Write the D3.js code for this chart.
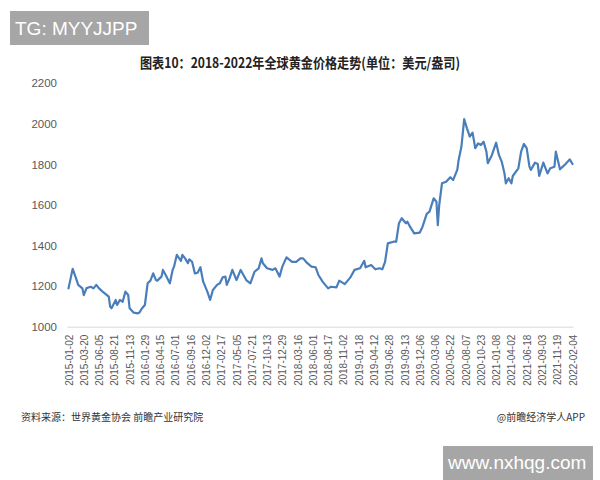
<!DOCTYPE html>
<html>
<head>
<meta charset="utf-8">
<script src="https://cdn.jsdelivr.net/npm/d3@7"></script>
<style>
  html, body { margin: 0; padding: 0; background: #ffffff; }
  svg { display: block; }
</style>
</head>
<body>
<svg id="chart" width="600" height="480"></svg>
<script>
// ---- data ----
const tickLabels = ["2015-01-02","2015-03-20","2015-06-05","2015-08-21","2015-11-13","2016-01-29","2016-04-15","2016-07-01","2016-09-16","2016-12-02","2017-02-17","2017-05-05","2017-07-21","2017-10-13","2017-12-29","2018-03-16","2018-06-01","2018-08-17","2018-11-02","2019-01-18","2019-04-12","2019-06-28","2019-09-13","2019-12-06","2020-03-06","2020-05-22","2020-08-07","2020-10-23","2021-01-08","2021-04-02","2021-06-18","2021-09-03","2021-11-19","2022-02-04"];
// weekly observation index of each sampled point (labels fall every 11 observations)
const weekIdx = [0,3,5,7,10,11,13,16,18,20,22,25,29,30,31,34,35,37,39,41,43,44,47,50,51,53,55,57,59,61,63,64,67,68,70,73,75,76,78,81,82,84,86,87,89,91,93,95,97,100,102,104,107,109,111,113,114,116,118,121,124,128,131,134,137,139,140,143,147,149,152,154,157,161,164,167,169,172,175,178,180,183,187,189,193,195,199,203,206,210,213,214,218,221,224,226,228,230,234,236,238,240,243,244,246,249,253,255,258,260,263,265,266,267,269,272,275,277,280,281,283,285,287,289,291,293,295,297,299,301,302,305,308,310,312,314,315,317,319,320,324,326,328,330,332,333,336,338,339,342,345,347,350,351,354,356,358,361,363];
const prices = [1189,1285,1247,1206,1189,1156,1190,1197,1189,1206,1189,1170,1148,1099,1091,1132,1107,1132,1123,1173,1156,1091,1069,1066,1069,1091,1107,1214,1227,1263,1230,1227,1247,1280,1255,1214,1280,1296,1354,1325,1354,1337,1313,1332,1320,1263,1266,1293,1222,1173,1132,1181,1206,1214,1243,1247,1206,1238,1280,1230,1280,1230,1214,1271,1288,1337,1313,1288,1280,1288,1247,1296,1342,1320,1320,1337,1337,1313,1296,1293,1255,1222,1189,1197,1194,1227,1210,1243,1280,1288,1325,1293,1304,1283,1288,1283,1320,1411,1419,1419,1510,1535,1510,1518,1493,1460,1464,1493,1556,1567,1633,1616,1501,1600,1707,1715,1737,1723,1773,1822,1888,2023,1978,1937,1957,1880,1904,1896,1912,1863,1806,1847,1907,1847,1814,1756,1707,1732,1707,1743,1781,1863,1901,1880,1789,1773,1809,1802,1743,1809,1756,1781,1789,1863,1776,1789,1802,1825,1802];
const yTicks = [1000,1200,1400,1600,1800,2000,2200];
const labelStep = 11;
const title = "图表10：2018-2022年全球黄金价格走势(单位：美元/盎司)";
const sourceText = "资料来源：世界黄金协会 前瞻产业研究院";
const creditText = "@前瞻经济学人APP";

// ---- drawing ----
const svg = d3.select("#chart");
const lastIdx = labelStep * (tickLabels.length - 1);
const x = d3.scaleLinear().domain([0, lastIdx]).range([68.5, 572.5]);
const y = d3.scaleLinear().domain([1000, 2200]).range([326.7, 83.3]);

const data = weekIdx.map((w, i) => ({ w, v: prices[i] }));

// badge top-left
svg.append("rect").attr("x", 10).attr("y", 11).attr("width", 139).attr("height", 34).attr("fill", "#a6a6a6");
svg.append("text").attr("x", 15).attr("y", 35).attr("fill", "#ffffff")
  .attr("font-family", "Liberation Sans, Arial, sans-serif").attr("font-size", 19).text("TG: MYYJJPP");

// title
svg.append("text").attr("x", 140).attr("y", 68)
  .attr("font-family", "Noto Sans CJK SC, sans-serif").attr("font-weight", "bold")
  .attr("font-size", 14).attr("fill", "#222")
  .attr("textLength", 320).attr("lengthAdjust", "spacingAndGlyphs").text(title);

// y axis (labels only)
const yAxis = d3.axisLeft(y).tickValues(yTicks).tickFormat(d3.format("d")).tickSize(0).tickPadding(0);
const gy = svg.append("g").attr("transform", "translate(57,0)").call(yAxis);
gy.select(".domain").remove();
gy.selectAll("text").attr("font-family", "Liberation Sans, Arial, sans-serif")
  .attr("font-size", 11.5).attr("fill", "#595959");

// x axis
const xAxis = d3.axisBottom(x)
  .tickValues(tickLabels.map((d, i) => i * labelStep))
  .tickFormat((d) => tickLabels[d / labelStep])
  .tickSize(0).tickPadding(0);
const gx = svg.append("g").attr("transform", `translate(0,${y(1000)})`).call(xAxis);
gx.select(".domain").attr("stroke", "#d9d9d9").attr("stroke-width", 1)
  .attr("d", `M${x(0) - 1},0.5H${x(lastIdx) + 1}`);
gx.selectAll("text")
  .attr("font-family", "Liberation Sans, Arial, sans-serif")
  .attr("font-size", 10).attr("fill", "#595959")
  .attr("text-anchor", "end")
  .attr("transform", "rotate(-90)")
  .attr("x", -8).attr("y", 0).attr("dy", "0.35em");

// line
const line = d3.line().x(d => x(d.w)).y(d => y(d.v)).curve(d3.curveLinear);
svg.append("path").datum(data).attr("d", line)
  .attr("fill", "none").attr("stroke", "#4a7ebb").attr("stroke-width", 2.2)
  .attr("stroke-linejoin", "round").attr("stroke-linecap", "round");

// footer
svg.append("text").attr("x", 21).attr("y", 421)
  .attr("font-family", "Noto Sans CJK SC, sans-serif").attr("font-size", 10).attr("fill", "#333")
  .text(sourceText);
svg.append("text").attr("x", 585).attr("y", 421).attr("text-anchor", "end")
  .attr("font-family", "Noto Sans CJK SC, sans-serif").attr("font-size", 10).attr("fill", "#333")
  .text(creditText);

// badge bottom-right
svg.append("rect").attr("x", 443).attr("y", 446).attr("width", 150).attr("height", 34).attr("fill", "#a6a6a6");
svg.append("text").attr("x", 448).attr("y", 469).attr("fill", "#ffffff")
  .attr("font-family", "Liberation Sans, Arial, sans-serif").attr("font-size", 19).text("www.nxhqg.com");
</script>
</body>
</html>
